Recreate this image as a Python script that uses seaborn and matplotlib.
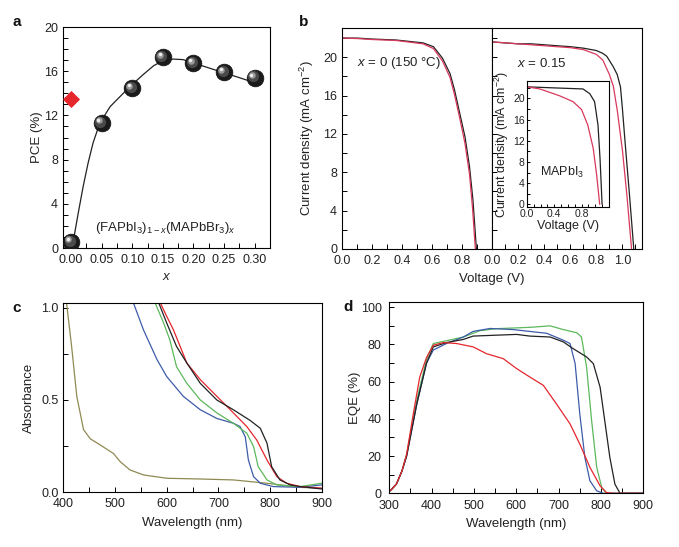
import matplotlib
matplotlib.use("Agg")
import matplotlib.pyplot as plt
import matplotlib.transforms as mtransforms
from matplotlib.ticker import MultipleLocator, FormatStrFormatter
import seaborn as sns

# =========================
# Data
# =========================
# a: PCE vs composition x
comp_x = [0.00, 0.05, 0.10, 0.15, 0.20, 0.25, 0.30]
pce = [0.55, 11.3, 14.45, 17.25, 16.7, 15.9, 15.4]
mapbi3_x = [0.0]
mapbi3_pce = [13.5]
fit_x = [0.004, 0.012, 0.020, 0.028, 0.036, 0.047, 0.064, 0.080, 0.099,
         0.118, 0.135, 0.150, 0.167, 0.183, 0.200, 0.225, 0.250, 0.276, 0.300]
fit_y = [0.7, 3.2, 5.6, 7.7, 9.5, 11.3, 12.8, 13.7, 14.75,
         15.7, 16.5, 16.95, 17.1, 17.05, 16.75, 16.3, 15.85, 15.4, 14.95]

# b: J-V curves, x = 0 (150 C)
jv0_v_black = [0, 0.1, 0.2, 0.36, 0.54, 0.61, 0.67, 0.72, 0.75, 0.78, 0.82, 0.85, 0.873, 0.896]
jv0_j_black = [22.0, 22.0, 21.9, 21.8, 21.5, 21.1, 19.9, 18.3, 16.6, 14.5, 11.7, 8.6, 5.1, 0]
jv0_v_red = [0, 0.1, 0.2, 0.36, 0.54, 0.61, 0.67, 0.72, 0.75, 0.78, 0.82, 0.85, 0.87, 0.889]
jv0_j_red = [22.0, 21.95, 21.85, 21.75, 21.4, 20.9, 19.6, 17.9, 16.1, 14.0, 11.0, 7.8, 4.3, 0]

# b: J-V curves, x = 0.15
jv15_v_black = [0, 0.1, 0.2, 0.3, 0.4, 0.5, 0.6, 0.7, 0.8, 0.85, 0.88, 0.93, 0.96, 0.985,
                1.0, 1.023, 1.055, 1.087]
jv15_j_black = [21.6, 21.5, 21.4, 21.4, 21.3, 21.2, 21.1, 20.95, 20.7, 20.4, 20.1, 19.0, 18.2, 16.9,
                14.6, 10.7, 5.5, 0]
jv15_v_red = [0, 0.2, 0.4, 0.6, 0.7, 0.8, 0.85, 0.9, 0.93, 0.96, 1.0, 1.035, 1.07]
jv15_j_red = [21.6, 21.4, 21.2, 21.0, 20.8, 20.3, 19.7, 18.2, 17.0, 14.5, 10.3, 5.5, 0]

# b inset: MAPbI3
ins_v_black = [0, 0.4, 0.82, 0.92, 0.99, 1.04, 1.07, 1.10]
ins_j_black = [22.2, 22.0, 21.8, 20.9, 19.4, 15.0, 8.6, 0]
ins_v_red = [0, 0.19, 0.48, 0.675, 0.80, 0.89, 0.97, 1.02, 1.065]
ins_j_red = [22.2, 21.8, 20.5, 19.4, 17.9, 15.0, 10.6, 5.6, 0]

# c: absorbance spectra
abs_wl_olive = [403, 406, 416, 426, 439, 452, 471, 497, 510, 529, 555, 600, 665, 729, 794, 858, 900]
abs_olive = [1.10, 1.03, 0.79, 0.52, 0.34, 0.29, 0.257, 0.21, 0.166, 0.121, 0.094, 0.076,
             0.072, 0.067, 0.049, 0.027, 0.022]
abs_wl_blue = [532, 535, 555, 581, 600, 632, 665, 697, 729, 742, 752, 758, 768, 781, 806, 858, 900]
abs_blue = [1.08, 1.03, 0.88, 0.72, 0.627, 0.52, 0.447, 0.40, 0.374, 0.356, 0.30, 0.175,
            0.085, 0.049, 0.031, 0.027, 0.04]
abs_wl_green = [574, 577, 594, 606, 619, 639, 665, 697, 729, 755, 768, 777, 794, 813, 858, 900]
abs_green = [1.08, 1.03, 0.917, 0.826, 0.68, 0.59, 0.50, 0.43, 0.374, 0.32, 0.248, 0.139,
             0.067, 0.04, 0.031, 0.049]
abs_wl_red = [584, 587, 600, 613, 626, 639, 665, 697, 729, 755, 774, 794, 813, 832, 858, 900]
abs_red = [1.08, 1.03, 0.953, 0.88, 0.79, 0.70, 0.61, 0.52, 0.43, 0.356, 0.284, 0.175,
           0.085, 0.049, 0.031, 0.022]
abs_wl_black = [581, 584, 600, 619, 639, 665, 697, 729, 761, 781, 794, 803, 819, 839, 858, 900]
abs_black = [1.08, 1.03, 0.917, 0.79, 0.70, 0.59, 0.50, 0.447, 0.39, 0.347, 0.266, 0.139,
             0.067, 0.04, 0.031, 0.018]

# d: EQE spectra
eqe_wl_red = [300, 305, 317, 330, 341, 357, 372, 388, 404, 428, 459, 498, 530, 569, 601,
              632, 664, 695, 727, 750, 774, 798, 813, 830, 900]
eqe_red = [1, 2, 5, 12, 21, 43, 62.5, 73, 79.6, 81, 80.5, 78.7, 75, 72.4, 67,
           62.5, 58, 48, 37.3, 26.5, 13.9, 4, 0.4, 0, 0]
eqe_wl_blue = [300, 305, 317, 330, 341, 365, 388, 404, 435, 475, 498, 538, 593, 632, 672,
               711, 727, 739, 750, 762, 774, 790, 806, 900]
eqe_blue = [1, 2, 5, 12, 20, 48, 70, 77, 80.5, 84, 87, 88.6, 88, 87, 86,
            82.3, 80.5, 69.7, 42.7, 19.3, 6.7, 1.3, 0, 0]
eqe_wl_green = [300, 305, 317, 330, 341, 365, 388, 404, 435, 475, 514, 554, 632, 680,
                711, 743, 754, 766, 778, 790, 802, 813, 900]
eqe_green = [1, 2, 5, 12, 21, 50, 72, 80.5, 82, 84, 87.4, 88.5, 89.2, 90,
             88, 86.3, 84, 68, 39, 13.9, 3, 0, 0]
eqe_wl_black = [300, 305, 317, 330, 341, 365, 388, 404, 435, 475, 498, 554, 601, 632,
                680, 711, 734, 766, 782, 798, 809, 821, 833, 845, 900]
eqe_black = [1, 2, 5, 12, 20, 48, 70, 78.7, 81, 82.7, 84.5, 85, 85.4, 84.5,
             84, 81.4, 77.8, 73.3, 69.7, 57, 39, 19.3, 4.9, 0, 0]

C_BLACK = "#222222"
C_RED = "#e5262d"
C_PINK = "#d8385c"
C_GREEN = "#5cb85c"
C_BLUE = "#3d5ba8"
C_OLIVE = "#8f8a52"

# =========================
# Style
# =========================
sns.set_theme(style="white")
plt.rcParams.update({
    "font.family": ["Liberation Sans", "DejaVu Sans"],
    "font.size": 9,
    "mathtext.fontset": "custom",
    "mathtext.rm": "Liberation Sans",
    "mathtext.it": "Liberation Sans:italic",
    "mathtext.bf": "Liberation Sans:bold",
    "mathtext.default": "regular",
    "axes.edgecolor": "black",
    "axes.linewidth": 0.8,
    "axes.labelcolor": "#222222",
    "axes.labelsize": 9.5,
    "text.color": "#222222",
    "xtick.color": "black",
    "ytick.color": "black",
    "xtick.labelcolor": "#222222",
    "ytick.labelcolor": "#222222",
    "xtick.labelsize": 9,
    "ytick.labelsize": 9,
    "xtick.direction": "in",
    "ytick.direction": "in",
    "xtick.bottom": True,
    "ytick.left": True,
    "xtick.major.size": 3.5,
    "ytick.major.size": 3.5,
    "xtick.minor.size": 3.5,
    "ytick.minor.size": 3.5,
    "xtick.major.width": 0.7,
    "ytick.major.width": 0.7,
    "xtick.minor.width": 0.7,
    "ytick.minor.width": 0.7,
    "xtick.major.pad": 4,
    "ytick.major.pad": 3.5,
})

fig = plt.figure(figsize=(6.79, 5.47), dpi=100)

ax_a = fig.add_axes([0.0928, 0.5466, 0.3049, 0.404])
ax_b1 = fig.add_axes([0.5037, 0.5448, 0.2209, 0.404])
ax_b2 = fig.add_axes([0.7246, 0.5448, 0.2209, 0.404])
ax_in = fig.add_axes([0.776, 0.6216, 0.1208, 0.2303])
ax_c = fig.add_axes([0.0933, 0.1000, 0.3806, 0.3466])
ax_d = fig.add_axes([0.5733, 0.0982, 0.3741, 0.3503])

# =========================
# a. PCE vs x
# =========================
sns.lineplot(x=fit_x, y=fit_y, ax=ax_a, color=C_BLACK, lw=0.9, zorder=2)
sns.scatterplot(x=comp_x, y=pce, ax=ax_a, color="#1a1a1a", edgecolor="#111111",
                s=145, linewidth=0.5, zorder=3)
# sphere shading, same points shifted up-left
for dx, s, c in [(-1.0, 65, "#4a4a4a"), (-2.0, 22, "#9a9a9a"), (-2.4, 6, "#eeeeee")]:
    off = mtransforms.ScaledTranslation(dx / 72, -dx / 72, fig.dpi_scale_trans)
    ax_a.scatter(comp_x, pce, s=s, color=c, lw=0, zorder=4, transform=ax_a.transData + off)
sns.scatterplot(x=mapbi3_x, y=mapbi3_pce, ax=ax_a, marker="D", color=C_RED,
                edgecolor=C_RED, s=65, zorder=3)
ax_a.set_xlim(-0.013, 0.325)
ax_a.set_ylim(0, 20)
ax_a.xaxis.set_major_locator(MultipleLocator(0.05))
ax_a.xaxis.set_minor_locator(MultipleLocator(0.025))
ax_a.xaxis.set_major_formatter(FormatStrFormatter("%.2f"))
ax_a.yaxis.set_major_locator(MultipleLocator(4))
ax_a.yaxis.set_minor_locator(MultipleLocator(1))
ax_a.set_xlabel(r"$\mathit{x}$")
ax_a.set_ylabel("PCE (%)")
ax_a.xaxis.set_label_coords(0.5, -0.105)
ax_a.yaxis.set_label_coords(-0.097, 0.5)
ax_a.text(0.039, 1.8, r"(FAPbI$_3$)$_{1-\mathit{x}}$(MAPbBr$_3$)$_\mathit{x}$",
          fontsize=9.5, ha="left", va="center")

# =========================
# b. J-V curves
# =========================
sns.lineplot(x=jv0_v_black, y=jv0_j_black, ax=ax_b1, color=C_BLACK, lw=0.9)
sns.lineplot(x=jv0_v_red, y=jv0_j_red, ax=ax_b1, color=C_PINK, lw=0.9)
sns.lineplot(x=jv15_v_black, y=jv15_j_black, ax=ax_b2, color=C_BLACK, lw=0.9)
sns.lineplot(x=jv15_v_red, y=jv15_j_red, ax=ax_b2, color=C_PINK, lw=0.9)

ax_b1.set_xlim(0, 1.0)
ax_b2.set_xlim(0, 1.15)
for ax in (ax_b1, ax_b2):
    ax.set_ylim(0, 23.05)
    ax.xaxis.set_major_locator(MultipleLocator(0.2))
    ax.xaxis.set_minor_locator(MultipleLocator(0.1))
    ax.xaxis.set_major_formatter(FormatStrFormatter("%.1f"))
    ax.yaxis.set_major_locator(MultipleLocator(4))
    ax.yaxis.set_minor_locator(MultipleLocator(2))
    ax.set_xlabel("")
    ax.set_ylabel("")
ax_b1.set_xticks([0.0, 0.2, 0.4, 0.6, 0.8])
ax_b2.tick_params(axis="y", labelleft=False)
ax_b1.set_ylabel("Current density (mA cm$^{-2}$)")
ax_b1.yaxis.set_label_coords(-0.173, 0.5)
ax_b1.set_xlabel("Voltage (V)")
ax_b1.xaxis.set_label_coords(1.0, -0.11)
ax_b1.text(0.1, 19.4, r"$\mathit{x}$ = 0 (150 °C)", ha="left", va="center", fontsize=9.5)
ax_b2.text(0.19, 19.4, r"$\mathit{x}$ = 0.15", ha="left", va="center", fontsize=9.5)

# inset
sns.lineplot(x=ins_v_black, y=ins_j_black, ax=ax_in, color=C_BLACK, lw=0.9)
sns.lineplot(x=ins_v_red, y=ins_j_red, ax=ax_in, color=C_PINK, lw=0.9)
ax_in.set_xlim(0, 1.2)
ax_in.set_ylim(-0.5, 23.3)
ax_in.set_xticks([0.0, 0.4, 0.8])
ax_in.xaxis.set_minor_locator(MultipleLocator(0.1))
ax_in.xaxis.set_major_formatter(FormatStrFormatter("%.1f"))
ax_in.yaxis.set_major_locator(MultipleLocator(4))
ax_in.yaxis.set_minor_locator(MultipleLocator(2))
ax_in.tick_params(labelsize=7.5, length=2.5, pad=1.5)
ax_in.tick_params(which="minor", length=2.5)
ax_in.set_xlabel("Voltage (V)", fontsize=9)
ax_in.set_ylabel("Current density (mA cm$^{-2}$)", fontsize=9)
ax_in.xaxis.set_label_coords(0.5, -0.1)
ax_in.yaxis.set_label_coords(-0.195, 0.5)
ax_in.text(0.19, 6.1, "MAPbI$_3$", ha="left", va="center", fontsize=9)

# =========================
# c. Absorbance
# =========================
for wl, a, col in [(abs_wl_olive, abs_olive, C_OLIVE), (abs_wl_blue, abs_blue, C_BLUE),
                   (abs_wl_green, abs_green, C_GREEN), (abs_wl_red, abs_red, C_RED),
                   (abs_wl_black, abs_black, C_BLACK)]:
    sns.lineplot(x=wl, y=a, ax=ax_c, color=col, lw=0.9)
ax_c.set_xlim(400, 900)
ax_c.set_ylim(0, 1.027)
ax_c.xaxis.set_major_locator(MultipleLocator(100))
ax_c.xaxis.set_minor_locator(MultipleLocator(50))
ax_c.yaxis.set_major_locator(MultipleLocator(0.5))
ax_c.yaxis.set_minor_locator(MultipleLocator(0.25))
ax_c.yaxis.set_major_formatter(FormatStrFormatter("%.1f"))
ax_c.set_xlabel("Wavelength (nm)")
ax_c.set_ylabel("Absorbance")
ax_c.xaxis.set_label_coords(0.5, -0.13)
ax_c.yaxis.set_label_coords(-0.111, 0.5)

# =========================
# d. EQE
# =========================
for wl, q, col in [(eqe_wl_green, eqe_green, C_GREEN), (eqe_wl_blue, eqe_blue, C_BLUE),
                   (eqe_wl_black, eqe_black, C_BLACK), (eqe_wl_red, eqe_red, C_RED)]:
    sns.lineplot(x=wl, y=q, ax=ax_d, color=col, lw=0.9)
ax_d.set_xlim(300, 900)
ax_d.set_ylim(0, 103)
ax_d.xaxis.set_major_locator(MultipleLocator(100))
ax_d.xaxis.set_minor_locator(MultipleLocator(50))
ax_d.yaxis.set_major_locator(MultipleLocator(20))
ax_d.yaxis.set_minor_locator(MultipleLocator(10))
ax_d.tick_params(axis="y", pad=5.5)
ax_d.tick_params(axis="x", pad=5)
ax_d.set_xlabel("Wavelength (nm)")
ax_d.set_ylabel("EQE (%)")
ax_d.xaxis.set_label_coords(0.5, -0.13)
ax_d.yaxis.set_label_coords(-0.111, 0.5)

# panel letters
for lx, ly, letter in [(17, 22, "a"), (304, 22, "b"), (17, 308, "c"), (348, 307, "d")]:
    fig.text(lx / 679, 1 - ly / 547, letter, fontsize=11, fontweight="bold",
             ha="center", va="center", color="#111111")

fig.savefig("out.png", dpi=100)
